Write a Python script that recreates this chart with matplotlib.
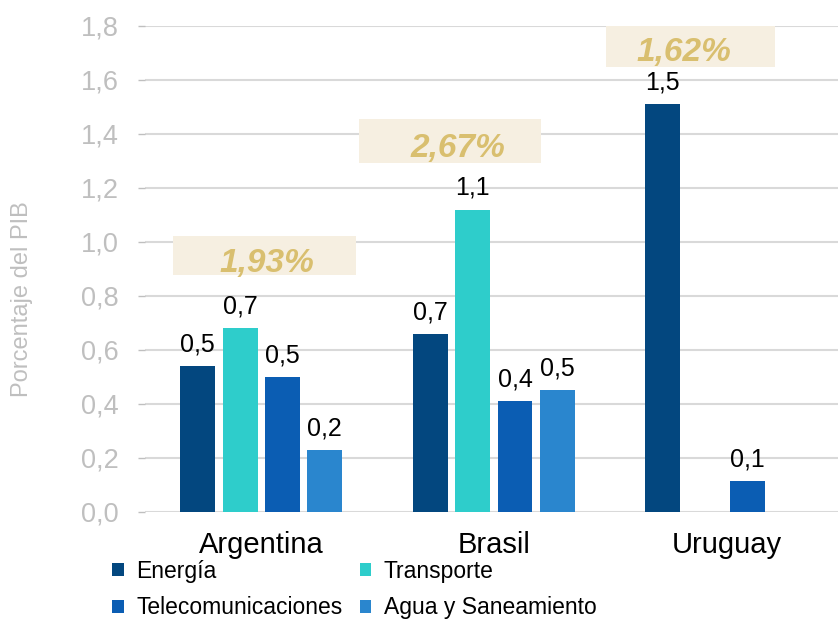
import numpy as np
import matplotlib
matplotlib.use('Agg')
import matplotlib.pyplot as plt
from matplotlib.patches import Rectangle
from matplotlib.ticker import FuncFormatter

plt.rcParams['font.family'] = ['Liberation Sans', 'DejaVu Sans']

#============================================
# datos (% del PIB)
paises = ['Argentina', 'Brasil', 'Uruguay']
sectores = ['Energía', 'Transporte', 'Telecomunicaciones', 'Agua y Saneamiento']
energia = [0.54, 0.66, 1.51]
transporte = [0.68, 1.12, np.nan]
telecom = [0.50, 0.41, 0.115]
agua = [0.23, 0.45, np.nan]
totales = ['1,93%', '2,67%', '1,62%']

colores = ['#03477F', '#2ECDCB', '#0B5DB3', '#2A86CE']

#============================================
fig = plt.figure(figsize=(8.38, 6.19), dpi=100)
ax = fig.add_axes([0.173, 0.173, 0.827, 0.785])

x = np.arange(len(paises))
ancho = 0.15
paso = 0.182
series = [energia, transporte, telecom, agua]

barras = []
for i, (vals, c, lab) in enumerate(zip(series, colores, sectores)):
    b = ax.bar(x + (i - 1.5) * paso, vals, ancho, color=c, label=lab, zorder=3)
    barras.append(b)
    ax.bar_label(b, fmt=lambda v: f'{v:.1f}'.replace('.', ','), padding=7,
                 fontsize=18, color='black')

# cajas con el total por pais
cajas = [(-0.378, 0.408, 0.878, 1.022, 0.026, 0.922),
         (0.421, 1.202, 1.293, 1.456, 0.845, 1.348),
         (1.481, 2.210, 1.648, 1.800, 1.815, 1.700)]
for (x0, x1, y0, y1, tx, ty), tot in zip(cajas, totales):
    ax.add_patch(Rectangle((x0, y0), x1 - x0, y1 - y0, facecolor='#F6EFE1',
                           edgecolor='none', zorder=2))
    ax.text(tx, ty, tot, ha='center', va='center', fontsize=24,
            fontweight='bold', fontstyle='italic', color='#D9BF6F', zorder=4)

ax.set_ylim(0, 1.8)
ax.set_xlim(-0.5, 2.48)
ax.set_yticks(np.arange(0, 1.81, 0.2))
ax.yaxis.set_major_formatter(FuncFormatter(lambda v, p: f'{v:.1f}'.replace('.', ',')))
ax.yaxis.grid(True, color='#D9D9D9', linewidth=1.5, zorder=0)
ax.set_axisbelow(True)
for s in ax.spines.values():
    s.set_visible(False)

ax.set_xticks(x)
ax.set_xticklabels(paises, fontsize=21)
ax.tick_params(axis='x', length=0, pad=14)
ax.tick_params(axis='y', colors='#BFBFBF', labelsize=19.5, length=5, width=1, pad=14)

ax.set_ylabel('Porcentaje del PIB', fontsize=17, color='#BFBFBF')
ax.yaxis.set_label_coords(-0.162, 0.438)

# leyenda: fila 1 Energía / Transporte, fila 2 Telecom / Agua
orden = [0, 2, 1, 3]
fig.legend([barras[i] for i in orden], [sectores[i] for i in orden],
           ncol=2, loc='upper left', bbox_to_anchor=(0.134, 0.096),
           frameon=False, fontsize=16.5, handlelength=0.5, handleheight=0.5,
           handletextpad=0.55, labelspacing=0.6, columnspacing=0.75,
           borderpad=0, borderaxespad=0)

plt.savefig('out.png', dpi=100)
